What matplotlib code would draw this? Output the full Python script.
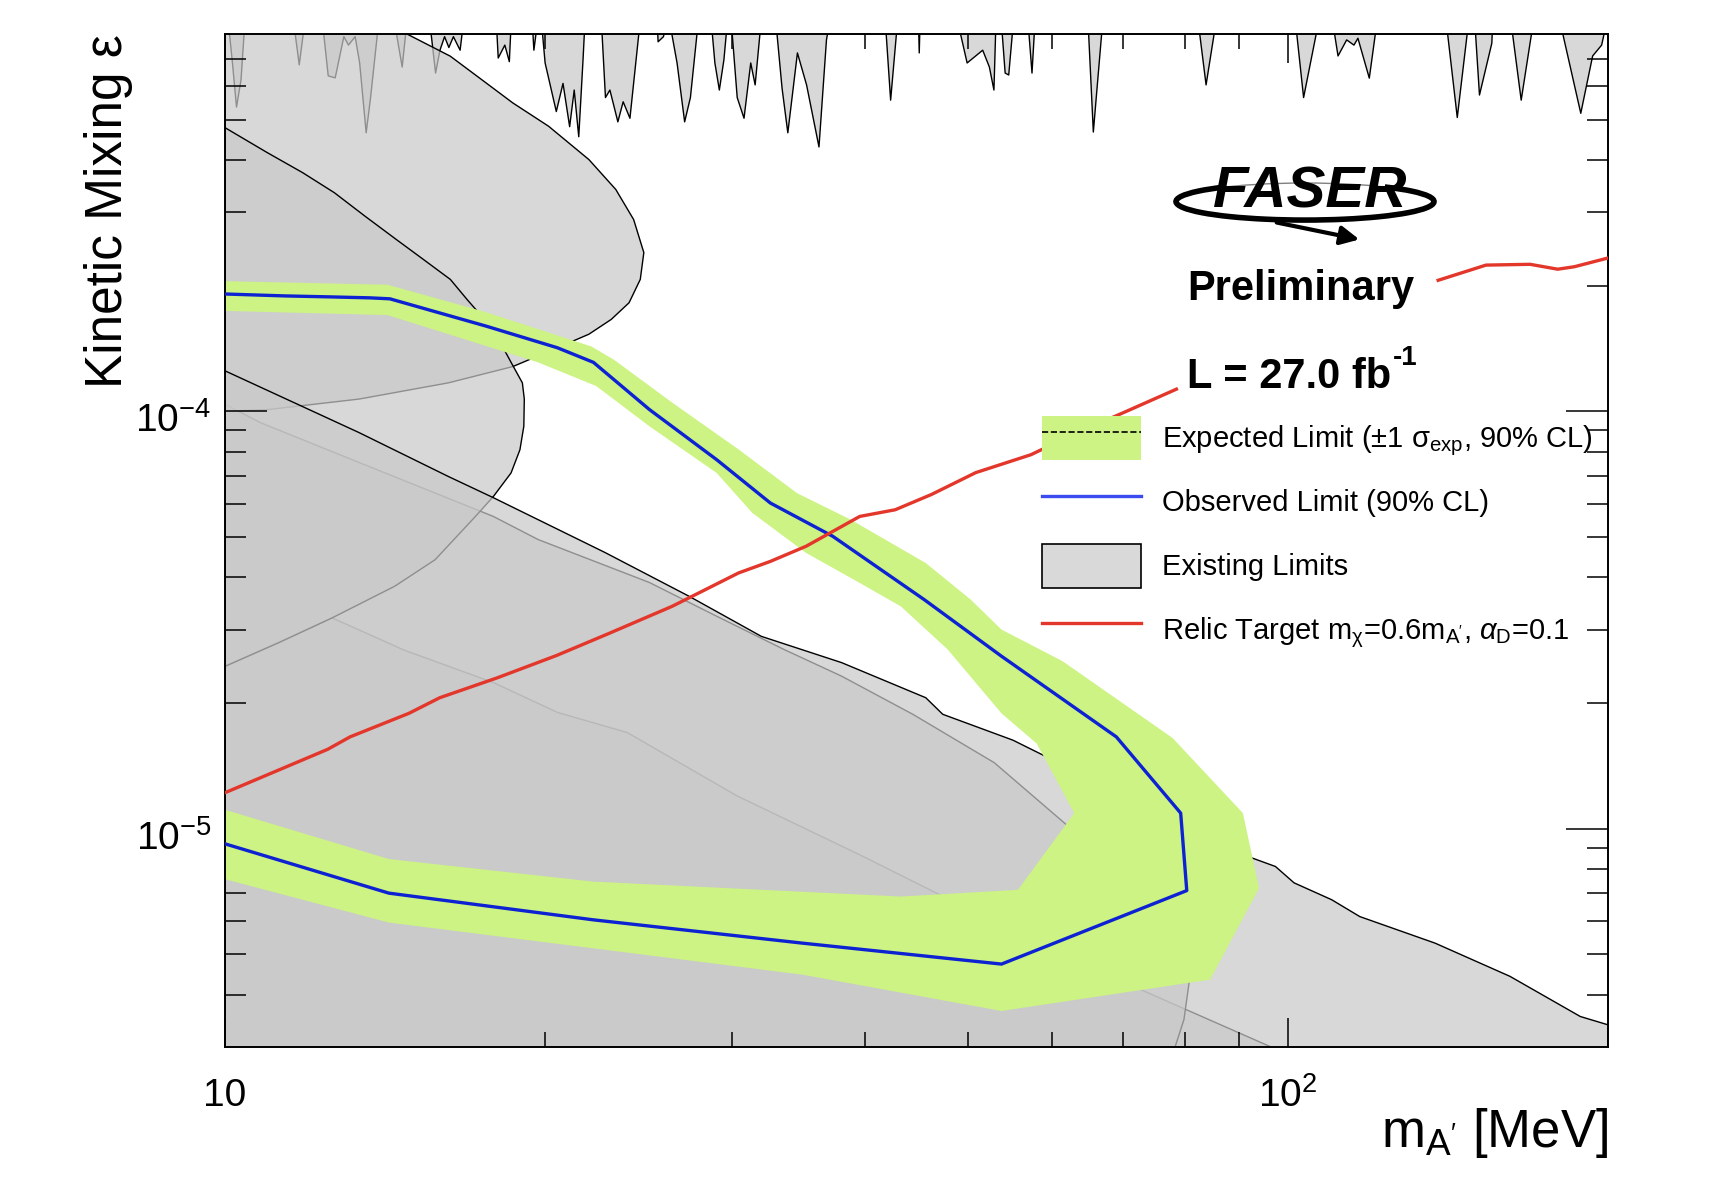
import numpy as np
import matplotlib
matplotlib.use('Agg')
import matplotlib.pyplot as plt
import matplotlib.transforms as mtransforms
from matplotlib.patches import Patch, Arc
from matplotlib.lines import Line2D
from matplotlib.ticker import FixedLocator, NullFormatter

plt.rcParams['font.family'] = ['Liberation Sans', 'DejaVu Sans']
plt.rcParams['mathtext.fontset'] = 'custom'
plt.rcParams['mathtext.rm'] = 'Liberation Sans'
plt.rcParams['mathtext.it'] = 'Liberation Sans:italic'
plt.rcParams['mathtext.bf'] = 'Liberation Sans:bold'

top = 9e-4   # value above the plot top, used where the spike band is closed

# resonance spikes hanging from the top (existing limits)
spike_mass = [10.0, 10.04, 10.15, 10.24, 10.34, 10.44, 11.56, 11.73, 11.90,
              12.31, 12.49, 12.68, 12.92, 13.05, 13.24, 13.37, 13.56, 13.69, 13.96,
              14.37, 14.66, 14.84, 15.53, 15.76, 15.91, 16.07, 16.22, 16.38, 16.62, 16.78,
              17.96, 18.05, 18.31, 18.49, 18.58, 19.41, 19.50, 19.70,
              19.79, 19.98, 20.47, 20.77, 21.07, 21.28, 21.49, 21.69, 21.80,
              22.55, 22.77, 22.99, 23.39, 23.66, 24.01, 24.59,
              25.45, 25.52, 25.82, 26.08, 26.59, 27.03, 27.37, 27.89,
              28.59, 28.86, 29.14, 29.43, 29.70, 29.86, 30.29, 30.74, 31.19, 31.49, 31.95,
              32.88, 33.38, 33.80, 34.51, 35.20, 36.16, 36.75, 37.12,
              41.70, 42.23, 42.93, 44.84, 44.93, 45.03,
              48.64, 49.84, 51.55, 52.30, 52.82, 53.08, 53.60, 54.12, 54.54, 55.18,
              56.79, 57.36, 57.79, 64.71, 65.51, 66.95, 82.03, 83.63, 85.70,
              101.3, 103.3, 107.1, 109.7, 111.3, 113.4, 115.2, 116.2, 119.1, 121.4,
              140.4, 144.1, 148.0, 149.5, 151.2, 155.3, 155.7, 161.5, 165.5, 170.4,
              179.3, 188.3, 193.2, 197.0, 200.0]
spike_eps = [top, top, 6.85e-4, 5.37e-4, 6.24e-4, top, top, 6.78e-4, top,
             top, 6.38e-4, 6.31e-4, 7.92e-4, 7.56e-4, 7.92e-4, 6.85e-4, 4.66e-4, 5.66e-4, top,
             top, 6.70e-4, top, top, 6.48e-4, 7.35e-4, 7.92e-4, 7.46e-4, 7.92e-4, 7.35e-4, top,
             top, 7.04e-4, 7.56e-4, 6.90e-4, top, top, 7.35e-4, top,
             top, 6.85e-4, 5.24e-4, 6.12e-4, 4.82e-4, 5.90e-4, 4.56e-4, 6.97e-4, top,
             top, 5.66e-4, 5.90e-4, 4.95e-4, 5.53e-4, 5.05e-4, top,
             top, 7.70e-4, 7.92e-4, top, 6.85e-4, 4.95e-4, 5.66e-4, top,
             top, 6.85e-4, 5.90e-4, 6.97e-4, top, top, 5.66e-4, 5.05e-4, 6.85e-4, 6.07e-4, top,
             top, 5.96e-4, 4.66e-4, 7.24e-4, 6.07e-4, 4.31e-4, 7.78e-4, top,
             top, 5.58e-4, top, top, 7.24e-4, top,
             top, 6.85e-4, 7.35e-4, 6.70e-4, 5.90e-4, top, top, 6.48e-4, 6.41e-4, top,
             top, 6.48e-4, top, top, 4.68e-4, top, top, 6.07e-4, top,
             top, 5.66e-4, top, top, 7.12e-4, 7.78e-4, 7.56e-4, 7.85e-4, 6.30e-4, top,
             top, 5.07e-4, top, top, 5.74e-4, 7.64e-4, top, top, 5.58e-4, top,
             top, 5.19e-4, 7.12e-4, 7.56e-4, top]

# other existing-limit contours
a_mass = [14.85, 16.29, 17.60, 18.65, 20.15, 21.99, 23.31, 24.23, 24.77, 24.58, 23.99,
          23.08, 21.99, 20.54, 18.65, 16.22, 13.37, 10.99, 10.0]
a_eps = [8.0e-4, 7.09e-4, 6.12e-4, 5.48e-4, 4.82e-4, 4.01e-4, 3.40e-4, 2.88e-4, 2.40e-4,
         2.07e-4, 1.82e-4, 1.66e-4, 1.53e-4, 1.42e-4, 1.28e-4, 1.17e-4, 1.07e-4, 1.01e-4,
         1.0e-4]

b_mass = [10, 10.95, 11.83, 12.67, 13.55, 14.49, 15.37, 16.29, 16.90, 17.88, 18.58, 19.04,
          19.12, 19.10, 18.94, 18.58, 17.88, 17.20, 15.76, 14.44, 12.61, 11.23, 10]
b_eps = [4.78e-4, 4.17e-4, 3.73e-4, 3.34e-4, 2.93e-4, 2.58e-4, 2.31e-4, 2.07e-4, 1.85e-4,
         1.57e-4, 1.31e-4, 1.17e-4, 1.07e-4, 9.21e-5, 8.09e-5, 7.12e-5, 6.25e-5, 5.60e-5,
         4.41e-5, 3.81e-5, 3.20e-5, 2.79e-5, 2.45e-5]

c_mass = [10, 10.80, 13.37, 17.88, 19.70, 25.07, 29.00, 33.54, 38.02, 44.36, 52.91, 61.66,
          70.35, 77.86, 80.70, 79.80, 78.28]
c_eps = [1.04e-4, 9.39e-5, 7.54e-5, 5.60e-5, 4.93e-5, 3.89e-5, 3.23e-5, 2.69e-5, 2.32e-5,
         1.88e-5, 1.44e-5, 1.03e-5, 7.83e-6, 5.62e-6, 4.28e-6, 3.49e-6, 3.0e-6]

d_mass = [10, 13.37, 16.22, 17.88, 22.77, 27.35, 31.95, 38.02, 45.62, 47.33, 55.10, 59.16,
          76.25, 92.5, 97.3, 101.3, 109.9, 116.8, 137.5, 161.7, 188.3, 200]
d_eps = [1.25e-4, 8.89e-5, 6.98e-5, 6.21e-5, 4.59e-5, 3.60e-5, 2.89e-5, 2.50e-5, 2.06e-5,
         1.88e-5, 1.63e-5, 1.49e-5, 1.13e-5, 8.51e-6, 8.12e-6, 7.42e-6, 6.76e-6, 6.16e-6,
         5.32e-6, 4.43e-6, 3.55e-6, 3.39e-6]

e_mass = [10, 12.61, 14.73, 17.88, 20.54, 23.90, 30.29, 39.88, 46.60, 70.35, 96.4]
e_eps = [2.45e-5, 3.20e-5, 2.68e-5, 2.24e-5, 1.90e-5, 1.70e-5, 1.20e-5, 8.57e-6, 7.03e-6,
         4.27e-6, 3.0e-6]

# expected limit +-1 sigma band: outer edge then inner edge
band_out_mass = [10, 14.22, 17.57, 22.11, 23.21, 26.33, 30.44, 34.51, 38.78, 45.62, 50.28,
                 53.75, 61.35, 77.86, 90.67, 93.9, 84.45, 53.75, 34.94, 14.26, 10]
band_out_eps = [2.05e-4, 2.01e-4, 1.73e-4, 1.43e-4, 1.33e-4, 1.05e-4, 8.09e-5, 6.37e-5,
                5.50e-5, 4.33e-5, 3.54e-5, 3.00e-5, 2.52e-5, 1.65e-5, 1.09e-5, 7.21e-6,
                4.35e-6, 3.66e-6, 4.47e-6, 5.96e-6, 7.57e-6]
band_in_mass = [10, 14.26, 22.21, 43.22, 55.70, 62.92, 58.01, 53.75, 47.83, 43.22, 39.54,
                35.20, 31.33, 29.0, 25.07, 22.34, 19.70, 14.22, 10]
band_in_eps = [1.11e-5, 8.46e-6, 7.47e-6, 6.88e-6, 7.14e-6, 1.09e-5, 1.60e-5, 1.89e-5,
               2.69e-5, 3.41e-5, 3.88e-5, 4.58e-5, 5.71e-5, 7.12e-5, 9.21e-5, 1.15e-4,
               1.31e-4, 1.70e-4, 1.74e-4]

# observed limit
obs_mass = [10, 11.38, 12.54, 13.68, 14.29, 17.6, 20.54, 22.21, 25.07, 29.0, 32.58, 37.29,
            45.46, 53.75, 68.93, 79.24, 80.29, 53.75, 34.94, 22.21, 14.26, 10]
obs_eps = [1.91e-4, 1.89e-4, 1.88e-4, 1.87e-4, 1.86e-4, 1.60e-4, 1.42e-4, 1.31e-4, 1.01e-4,
           7.66e-5, 6.03e-5, 5.02e-5, 3.54e-5, 2.59e-5, 1.66e-5, 1.09e-5, 7.11e-6, 4.74e-6,
           5.32e-6, 6.05e-6, 7.01e-6, 9.20e-6]

# relic target (hidden behind the labels in the gap)
relic_mass = [10, 12.49, 13.11, 14.89, 15.92, 18.04, 20.50, 22.99, 26.33, 27.89, 30.41,
              32.58, 35.20, 39.54, 42.70, 46.18, 50.83, 57.28, 62.26, 71.08, 78.51,
              np.nan, 138.4, 153.5, 168.9, 179.3, 185.9, 200]
relic_eps = [1.22e-5, 1.55e-5, 1.66e-5, 1.89e-5, 2.06e-5, 2.30e-5, 2.60e-5, 2.94e-5,
             3.41e-5, 3.67e-5, 4.10e-5, 4.37e-5, 4.75e-5, 5.60e-5, 5.81e-5, 6.32e-5,
             7.13e-5, 7.87e-5, 8.71e-5, 1.01e-4, 1.13e-4,
             np.nan, 2.06e-4, 2.24e-4, 2.25e-4, 2.19e-4, 2.22e-4, 2.33e-4]

x_lo, x_hi = 10, 200
y_lo, y_hi = 3e-6, 8e-4

lim_face = (0.788, 0.788, 0.788, 0.71)
green = '#ccf383'
blue = '#0d22d2'
red = '#e3372b'

fig = plt.figure(figsize=(17.34, 11.8), dpi=100)
ax = fig.add_axes([0.1298, 0.1127, 0.7976, 0.8582])
ax.set_xscale('log')
ax.set_yscale('log')

far_lo = 1e-6
far_hi = 1e-3
ax.fill_between(spike_mass, spike_eps, far_hi, facecolor=lim_face, edgecolor='k', lw=1, zorder=1)
ax.fill(e_mass + [e_mass[-1], x_lo], e_eps + [far_lo, far_lo], facecolor=lim_face,
        edgecolor='k', lw=1, zorder=1)
ax.fill(c_mass + [c_mass[-1], x_lo], c_eps + [far_lo, far_lo], facecolor=lim_face,
        edgecolor='k', lw=1, zorder=1)
ax.fill(a_mass + [x_lo, a_mass[0]], a_eps + [far_hi, far_hi], facecolor=lim_face,
        edgecolor='k', lw=1, zorder=1)
ax.fill(b_mass, b_eps, facecolor=lim_face, edgecolor='k', lw=1, zorder=1)
ax.fill(d_mass + [x_hi, x_lo], d_eps + [far_lo, far_lo], facecolor=lim_face,
        edgecolor='k', lw=1, zorder=1)

ax.fill(band_out_mass + band_in_mass, band_out_eps + band_in_eps, color=green, lw=0, zorder=2)
ax.plot(obs_mass, obs_eps, color=blue, lw=2.4, zorder=3)
ax.plot(relic_mass, relic_eps, color=red, lw=2.4, zorder=4)

ax.set_xlim(x_lo, x_hi)
ax.set_ylim(y_lo, y_hi)

ax.xaxis.set_major_locator(FixedLocator([10, 100]))
ax.xaxis.set_major_formatter(plt.FixedFormatter(['10', r'$10^{2}$']))
ax.xaxis.set_minor_locator(FixedLocator([20, 30, 40, 50, 60, 70, 80, 90]))
ax.xaxis.set_minor_formatter(NullFormatter())
ax.yaxis.set_major_locator(FixedLocator([1e-5, 1e-4]))
ax.yaxis.set_major_formatter(plt.FixedFormatter([r'$10^{-5}$', r'$10^{-4}$']))
ax.yaxis.set_minor_locator(FixedLocator([4e-6, 5e-6, 6e-6, 7e-6, 8e-6, 9e-6,
                                         2e-5, 3e-5, 4e-5, 5e-5, 6e-5, 7e-5, 8e-5, 9e-5,
                                         2e-4, 3e-4, 4e-4, 5e-4, 6e-4, 7e-4]))
ax.yaxis.set_minor_formatter(NullFormatter())

ax.tick_params(which='both', direction='in', top=True, right=True, width=1.1, labelsize=28)
ax.tick_params(axis='x', which='major', length=21, pad=22)
ax.tick_params(axis='x', which='minor', length=11)
ax.tick_params(axis='y', which='major', length=30, pad=10)
ax.tick_params(axis='y', which='minor', length=15)
for s in ax.spines.values():
    s.set_linewidth(1.4)

# ROOT puts the y labels a little below the tick
shift = mtransforms.ScaledTranslation(0, -0.06, fig.dpi_scale_trans)
for lab in ax.yaxis.get_majorticklabels():
    lab.set_transform(lab.get_transform() + shift)

fig.text(0.0625, 0.971, 'Kinetic Mixing ε', rotation=90, ha='center', va='top', fontsize=37)
fig.text(0.9273, 0.028, r"m$_{\mathrm{A}'}$ [MeV]", ha='right', va='baseline', fontsize=38)

# legend
handles = [(Patch(facecolor=green, edgecolor='none'), Line2D([], [], color='k', ls='--', lw=1.2)),
           Line2D([], [], color='#3a4cf0', lw=2.4),
           Patch(facecolor='#d9d9d9', edgecolor='k', lw=1.2),
           Line2D([], [], color=red, lw=2.4)]
labels = [r"Expected Limit (±1 σ$_{\mathrm{exp}}$, 90% CL)",
          'Observed Limit (90% CL)',
          'Existing Limits',
          r"Relic Target m$_{\mathrm{\chi}}$=0.6m$_{\mathrm{A}'}$, $\alpha_{\mathrm{D}}$=0.1"]
leg = fig.legend(handles, labels, loc='upper left', bbox_to_anchor=(0.601, 0.6475),
                 bbox_transform=fig.transFigure, frameon=False, fontsize=21,
                 borderpad=0, borderaxespad=0, handlelength=3.38, handleheight=1.95,
                 handletextpad=0.72, labelspacing=0.68)

# labels and logo
fig.text(0.6845, 0.7458, 'Preliminary', fontsize=30, weight='bold', va='baseline')
lum = fig.text(0.6845, 0.671, 'L = 27.0 fb', fontsize=30, weight='bold', va='baseline')
renderer = fig.canvas.get_renderer()
bb = lum.get_window_extent(renderer).transformed(fig.transFigure.inverted())
fig.text(bb.x1 + 0.001, 0.671 + 0.02, '-1', fontsize=20, weight='bold', va='baseline')

fig.text(0.7555, 0.8365, 'FASER', fontsize=42, weight='heavy', style='italic',
         ha='center', va='center')
fig.add_artist(Arc((0.7526, 0.8292), 0.1488, 0.0314, theta1=0, theta2=180,
                   transform=fig.transFigure, color='0.5', lw=1))
fig.add_artist(Arc((0.7526, 0.8292), 0.1488, 0.0314, theta1=165, theta2=375,
                   transform=fig.transFigure, color='k', lw=4))
ax.annotate('', xy=(0.7855, 0.7966), xytext=(0.7347, 0.8119), xycoords='figure fraction',
            textcoords='figure fraction', annotation_clip=False,
            arrowprops=dict(arrowstyle='-|>', lw=3, color='k', mutation_scale=28))

fig.savefig('out.png', dpi=100)
